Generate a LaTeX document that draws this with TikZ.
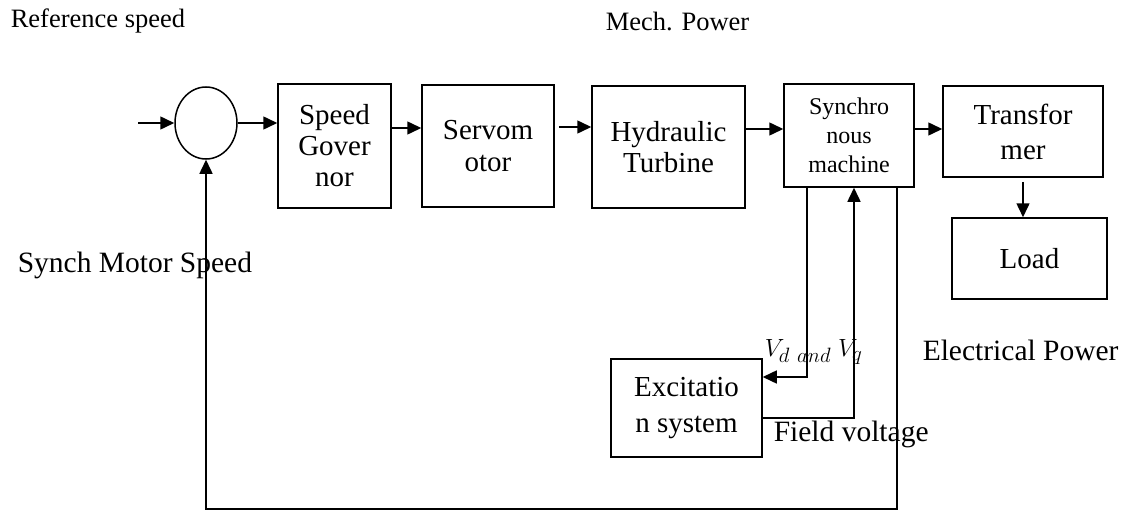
\documentclass[tikz,border=0pt]{standalone}
\usepackage{fontspec}
\setmainfont{Liberation Serif}
\usetikzlibrary{arrows.meta,shapes.geometric}
\begin{document}
\begin{tikzpicture}[x=1pt,y=-1pt,
  line width=1.5pt,
  arr/.style={-{Triangle[length=14pt,width=13pt]}},
  box/.style={draw, rectangle, align=center, inner sep=0pt, font=\fontsize{29}{31}\selectfont},
  lbl/.style={inner sep=0pt, anchor=west, font=\fontsize{29.5}{33}\selectfont},
  slbl/.style={inner sep=0pt, anchor=west, font=\fontsize{26.5}{30}\selectfont}]
\useasboundingbox (0,0) rectangle (1128,511);

% blocks
\node[draw, ellipse, inner sep=0pt, minimum width=62pt, minimum height=72pt] (sum) at (206,123) {};
\node[box, minimum width=113pt, minimum height=124pt] (sg) at (334.5,146) {Speed\\Gover\\nor};
\node[box, minimum width=132pt, minimum height=122pt, font=\fontsize{29}{32}\selectfont] (sv) at (488,146) {Servom\\otor};
\node[box, minimum width=153pt, minimum height=122pt] (ht) at (668.5,147) {Hydraulic\\Turbine};
\node[box, minimum width=130pt, minimum height=103pt, font=\fontsize{24}{29}\selectfont] (sm) at (849,135.5) {Synchro\\nous\\machine};
\node[box, minimum width=160pt, minimum height=91pt, font=\fontsize{29}{35}\selectfont] (tr) at (1023,131.5) {Transfor\\mer};
\node[box, minimum width=155pt, minimum height=81pt] (ld) at (1029.5,258.5) {Load};
\node[box, minimum width=151pt, minimum height=98pt, font=\fontsize{29}{36}\selectfont] (ex) at (686.5,408) {Excitatio\\n system};

% labels
\node[slbl] (refsp) at (10,21) {Reference speed};
\node[slbl] (mech) at (605,21) {Mech. Power};
\node[lbl] (syncsp) at (17,265) {Synch Motor Speed};
\node[lbl] (elec) at (922,350) {Electrical Power};
\node[lbl] (fv) at (773,434) {Field voltage};
\node[lbl, font=\fontsize{31}{34}\selectfont] (vdq) at (764,352) {$V_{d\ and}\;V_q$};

% connectors
\coordinate (in) at (138,123);
\draw[arr] (in) -- (sum.west);
\draw[arr] (sum.east) -- (sg.west |- sum.east);
\draw[arr] (sg.east |- 0,128) -- (sv.west |- 0,128);
\draw[arr] ([xshift=4pt]sv.east |- 0,127) -- (ht.west |- 0,127);
\draw[arr] (ht.east |- 0,129) -- (sm.west |- 0,129);
\draw[arr] (sm.east |- 0,129) -- (tr.west |- 0,129);
\draw[arr] ([yshift=-4pt]tr.south) -- (tr.south |- ld.north);
\draw[arr] (sm.south -| 807,0) |- (ex.east |- 0,377);
\draw[arr] (ex.east |- 0,418) -| (sm.south -| 854,0);
\draw[arr] (sm.south -| 897,0) |- (sum.south |- 0,509) -- (sum.south);
\end{tikzpicture}
\end{document}
